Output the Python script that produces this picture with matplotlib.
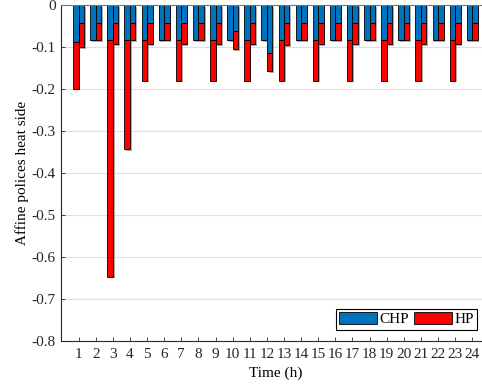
import numpy as np
import matplotlib
matplotlib.use("Agg")
import matplotlib.pyplot as plt
import matplotlib.patheffects as pe

# Affine policies, heat side (negative values), two bars per hour
hours = list(range(1, 25))

# left bar of each hour
chp_left = [-0.089, -0.083, -0.083, -0.083, -0.083, -0.083, -0.083, -0.083,
            -0.083, -0.083, -0.083, -0.083, -0.083, -0.083, -0.083, -0.083,
            -0.083, -0.083, -0.083, -0.083, -0.083, -0.083, -0.083, -0.083]
hp_left = [-0.110, 0.0, -0.564, -0.260, -0.097, 0.0, -0.097, 0.0,
           -0.097, 0.0, -0.097, 0.0, -0.097, 0.0, -0.097, 0.0,
           -0.097, 0.0, -0.097, 0.0, -0.097, 0.0, -0.097, 0.0]

# right bar of each hour
chp_right = [-0.043, -0.042, -0.042, -0.042, -0.042, -0.042, -0.042, -0.042,
             -0.042, -0.063, -0.042, -0.115, -0.044, -0.042, -0.042, -0.042,
             -0.042, -0.042, -0.042, -0.042, -0.042, -0.042, -0.042, -0.042]
hp_right = [-0.058, -0.041, -0.051, -0.041, -0.051, -0.041, -0.051, -0.041,
            -0.051, -0.042, -0.051, -0.043, -0.051, -0.041, -0.051, -0.041,
            -0.051, -0.041, -0.051, -0.041, -0.051, -0.041, -0.051, -0.041]

plt.rcParams["font.family"] = ["Liberation Serif", "DejaVu Serif"]
plt.rcParams["axes.unicode_minus"] = False
fontsize = 11

blue = "#0072BD"
red = "#FF0000"

fig = plt.figure(figsize=(4.82, 3.87), dpi=100)
ax = fig.add_axes([61.5 / 482, 46 / 387, (489.4 - 61.5) / 482, 336 / 387])

x = np.array(hours, dtype=float)
w = 0.32
shadow = [pe.SimplePatchShadow(offset=(1.2, -1.2), shadow_rgbFace="0.45", alpha=0.6), pe.Normal()]

for off, chp, hp in [(-w / 2, chp_left, hp_left), (w / 2, chp_right, hp_right)]:
    b1 = ax.bar(x + off, chp, width=w, color=blue, edgecolor="black", linewidth=0.6, zorder=2)
    b2 = ax.bar(x + off, hp, bottom=chp, width=w, color=red, edgecolor="black", linewidth=0.6, zorder=2)
    for r in list(b1) + list(b2):
        r.set_path_effects(shadow)

ax.set_xlim(0, 25)
ax.set_ylim(-0.8, 0)
ax.set_xticks(hours)
ax.set_yticks(np.arange(-0.8, 0.01, 0.1))
ax.set_yticklabels(["-0.8", "-0.7", "-0.6", "-0.5", "-0.4", "-0.3", "-0.2", "-0.1", "0"])
ax.tick_params(direction="in", length=3, width=0.6, labelsize=fontsize, colors="#262626")
ax.tick_params(axis="x", pad=5)
ax.tick_params(axis="y", pad=4)
ax.yaxis.grid(True, color="#e0e0e0", linewidth=0.8, zorder=0)
ax.set_axisbelow(True)

ax.spines["right"].set_visible(False)
ax.spines["top"].set_color("0.45")
for s in ["left", "bottom"]:
    ax.spines[s].set_color("#262626")
    ax.spines[s].set_linewidth(0.8)

ax.set_xlabel("Time (h)", fontsize=fontsize, labelpad=4)
ax.set_ylabel("Affine polices heat side", fontsize=fontsize, labelpad=2)

handles = [plt.Rectangle((0, 0), 1, 1, facecolor=blue, edgecolor="black", linewidth=0.6),
           plt.Rectangle((0, 0), 1, 1, facecolor=red, edgecolor="black", linewidth=0.6)]
leg = fig.legend(handles, ["CHP", "HP"], loc="lower right", ncol=2,
                 bbox_to_anchor=(476.7 / 482, (387 - 329.5) / 387),
                 borderaxespad=0, fontsize=fontsize, fancybox=False,
                 handlelength=2.5, handleheight=0.8, handletextpad=0.15,
                 columnspacing=0.3, borderpad=0.2, framealpha=1)
leg.get_frame().set_edgecolor("black")
leg.get_frame().set_linewidth(0.8)

fig.savefig("out.png", dpi=100)
